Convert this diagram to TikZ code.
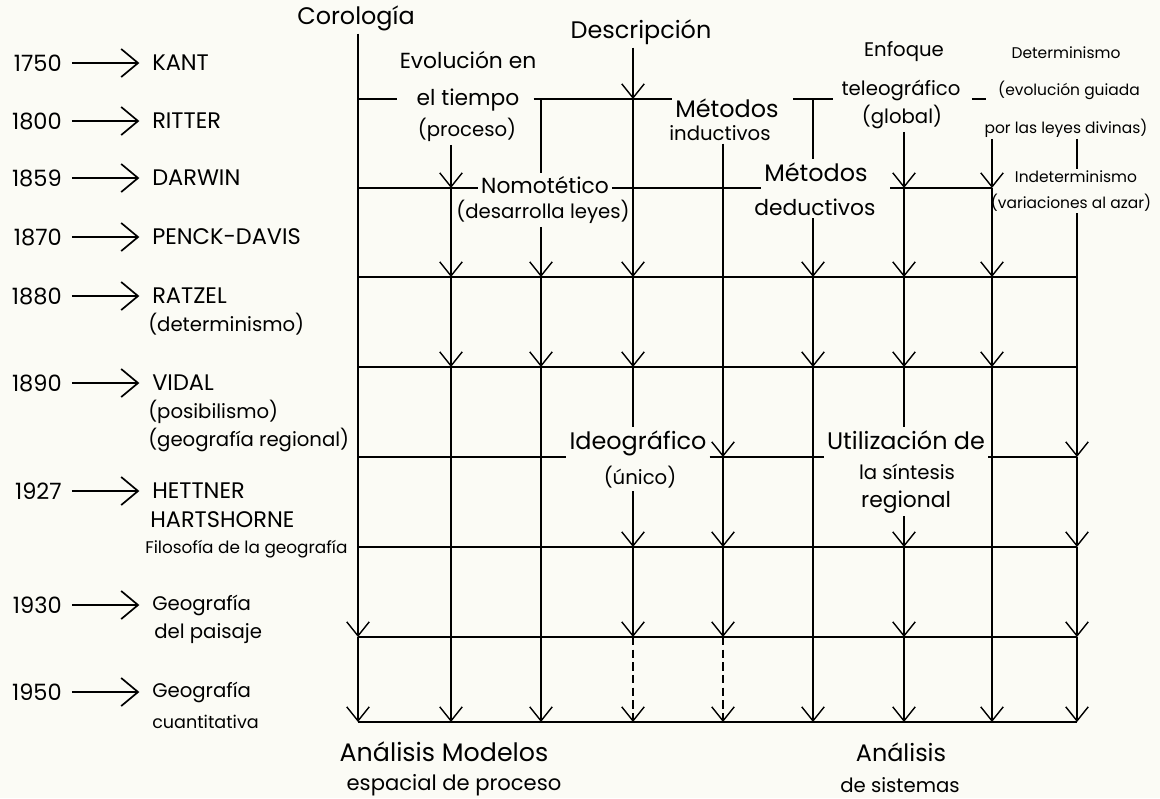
\documentclass[tikz,border=0pt]{standalone}
\usepackage{fontspec}
\setmainfont{Poppins}
\usetikzlibrary{arrows.meta,positioning}
\definecolor{paper}{RGB}{251,251,245}
\newcommand\bigf{\fontsize{17}{20}\selectfont}
\newcommand\medf{\fontsize{15.5}{18}\selectfont}
\newcommand\midf{\fontsize{14}{17}\selectfont}
\newcommand\smlf{\fontsize{11}{13}\selectfont}
\tikzset{
  lbl/.style={inner sep=2pt, font=\bigf},
  lblm/.style={inner sep=2pt, font=\medf},
  sub/.style={inner sep=2pt, font=\midf},
  tiny/.style={inner sep=1pt, font=\smlf},
  ln/.style={line width=1pt},
  tip/.style={ln, -{Straight Barb[length=10pt,width=16pt]}},
  yr/.style={anchor=east, inner sep=0pt, font=\fontsize{16}{19}\selectfont},
  nm/.style={anchor=west, inner sep=0pt, font=\fontsize{16}{19}\selectfont},
  nmsub/.style={anchor=west, inner sep=0pt, font=\midf},
  lft/.style={line width=1.2pt, shorten <=7pt, shorten >=9pt,
    -{Straight Barb[length=12pt,width=20pt]}},
}
\begin{document}
\begin{tikzpicture}[x=0.025cm,y=-0.025cm]
\fill[paper] (0,0) rectangle (1160,798);
\useasboundingbox (0,0) rectangle (1160,798);

% grid points
\foreach \c/\x in {1/358,2/451,3/541,4/633,5/723,6/813,7/904,8/992,9/1077}
  \foreach \r/\y in {0/99,1/188,2/277,3/367,4/457,5/547,6/637,7/722}
    \coordinate (p\c-\r) at (\x,\y);

% left column
\foreach \yr/\y/\nm in {1750/63/KANT,1800/121/RITTER,1859/178/DARWIN,
    1870/237/PENCK-DAVIS,1880/296/RATZEL,1890/383/VIDAL,1927/491/HETTNER}{
  \node[yr] (y\yr) at (62,\y) {\yr};
  \node[nm] (n\yr) at (152,\y) {\nm};
  \draw[lft] (y\yr.east) -- (n\yr.west);
}
\foreach \yr/\y in {1930/605,1950/692}{
  \node[yr] (y\yr) at (62,\y) {\yr};
  \node[nmsub] (n\yr) at (152,\y) {Geografía};
  \draw[lft] (y\yr.east) -- (n\yr.west);
}
\node[nmsub] (d1880) at (148,324) {(determinismo)};
\node[nmsub] (p1890) at (148,412) {(posibilismo)};
\node[nmsub] (g1890) at (148,440) {(geografía regional)};
\node[nm] (h1927) at (150,520) {HARTSHORNE};
\node[anchor=west, inner sep=0pt, font=\fontsize{12}{14}\selectfont] (f1927) at (145,549) {Filosofía de la geografía};
\node[nmsub] (s1930) at (154,634) {del paisaje};
\node[anchor=west, inner sep=0pt, font=\fontsize{12.5}{15}\selectfont] (c1950) at (152,722) {cuantitativa};

% labels on top
\node[lbl] (cor) at (356,18) {Corología};
\node[lbl] (desc) at (641,32) {Descripción};
\node[lblm] (evoa) at (468,60) {Evolución en};
\node[lblm] (evob) at (468,100) {el tiempo};
\node[sub] (proc) at (467,130) {(proceso)};
\node[lbl] (minda) at (727,108) {Métodos};
\node[sub] (mindb) at (720,133) {inductivos};
\node[sub] (enf) at (904,52) {Enfoque};
\node[sub] (tele) at (901,90) {teleográfico};
\node[sub] (glob) at (902,117) {(global)};
\node[tiny] (det) at (1066,53) {Determinismo};
\node[tiny] (evg) at (1069,90) {(evolución guiada};
\node[tiny] (pld) at (1066,128) {por las leyes divinas)};
\node[tiny] (indet) at (1076,177) {Indeterminismo};
\node[tiny] (var) at (1071,203) {(variaciones al azar)};
\node[lblm] (nomo) at (545,185) {Nomotético};
\node[sub] (desl) at (543,212) {(desarrolla leyes)};
\node[lbl] (mded) at (816,172) {Métodos};
\node[lblm] (dedu) at (815,207) {deductivos};
\node[lbl] (ideo) at (638,443) {Ideográfico};
\node[sub] (unico) at (640,477) {(único)};
\node[lbl] (util) at (906,440) {Utilización de};
\node[sub] (sint) at (907,472) {la síntesis};
\node[lblm] (regi) at (906,502) {regional};

% labels at the bottom
\node[inner sep=2pt, font=\fontsize{18}{21}\selectfont] (ana1) at (444,752) {Análisis Modelos};
\node[inner sep=2pt, font=\fontsize{15}{18}\selectfont] (esp) at (454,785) {espacial de proceso};
\node[lbl] (ana2) at (901,752) {Análisis};
\node[sub] (dsis) at (900,785) {de sistemas};

% rows
\draw[ln] (p1-0) -- ([xshift=-12]evob.west |- p1-0);
\draw[ln] ([xshift=8]evob.east |- p1-0) -- (minda.west |- p1-0);
\draw[ln] ([xshift=8]minda.east |- p1-0) -- ([xshift=-4]tele.west |- p1-0);
\draw[ln] ([xshift=6]tele.east |- p1-0) -- ++(14,0);
\draw[ln] (p1-1) -- (nomo.west |- p1-1);
\draw[ln] (nomo.east |- p1-1) -- (mded.west |- p1-1);
\draw[ln] ([xshift=14]mded.east |- p1-1) -- (p8-1);
\draw[ln] (p1-4) -- (ideo.west |- p1-4);
\draw[ln] (ideo.east |- p1-4) -- (util.west |- p1-4);
\draw[ln] (util.east |- p1-4) -- (p9-4);
\foreach \r in {2,3,5,6,7}
  \draw[ln] (p1-\r) -- (p9-\r);

% columns
\draw[tip] (cor.south -| p1-0) -- (p1-6);
\draw[tip] (p1-6) -- (p1-7);
\draw[tip] (proc.south -| p2-0) -- (p2-1);
\draw[ln] (p3-0) -- (nomo.north -| p3-0);
\draw[tip] (desl.south -| p3-0) -- (p3-2);
\draw[tip] (desc.south -| p4-0) -- (p4-0);
\draw[tip] (p4-0) -- (p4-2);
\draw[ln] (p4-3) -- (ideo.north -| p4-3);
\draw[tip] (unico.south -| p4-3) -- (p4-5);
\draw[tip] (mindb.south -| p5-0) -- (p5-4);
\draw[ln] (p6-0) -- (mded.north -| p6-0);
\draw[tip] (dedu.south -| p6-0) -- (p6-2);
\draw[tip] (glob.south -| p7-0) -- (p7-1);
\draw[ln] (p7-3) -- (util.north -| p7-3);
\draw[tip] (regi.south -| p7-3) -- (p7-5);
\draw[tip] (pld.south -| p8-0) -- (p8-1);
\draw[ln] (pld.south -| p9-0) -- (indet.north -| p9-0);
\draw[tip] (var.south -| p9-0) -- (p9-4);
\foreach \a/\b in {2-1/2-2,2-2/2-3,2-3/2-7,3-2/3-3,3-3/3-7,4-2/4-3,4-5/4-6,
    5-4/5-5,5-5/5-6,6-2/6-3,6-3/6-7,7-1/7-2,7-2/7-3,7-5/7-6,7-6/7-7,
    8-1/8-2,8-2/8-3,8-3/8-7,9-4/9-5,9-5/9-6,9-6/9-7}
  \draw[tip] (p\a) -- (p\b);
\draw[tip, dash pattern=on 6pt off 3pt] (p4-6) -- (p4-7);
\draw[tip, dash pattern=on 6pt off 3pt] (p5-6) -- (p5-7);
\end{tikzpicture}
\end{document}
